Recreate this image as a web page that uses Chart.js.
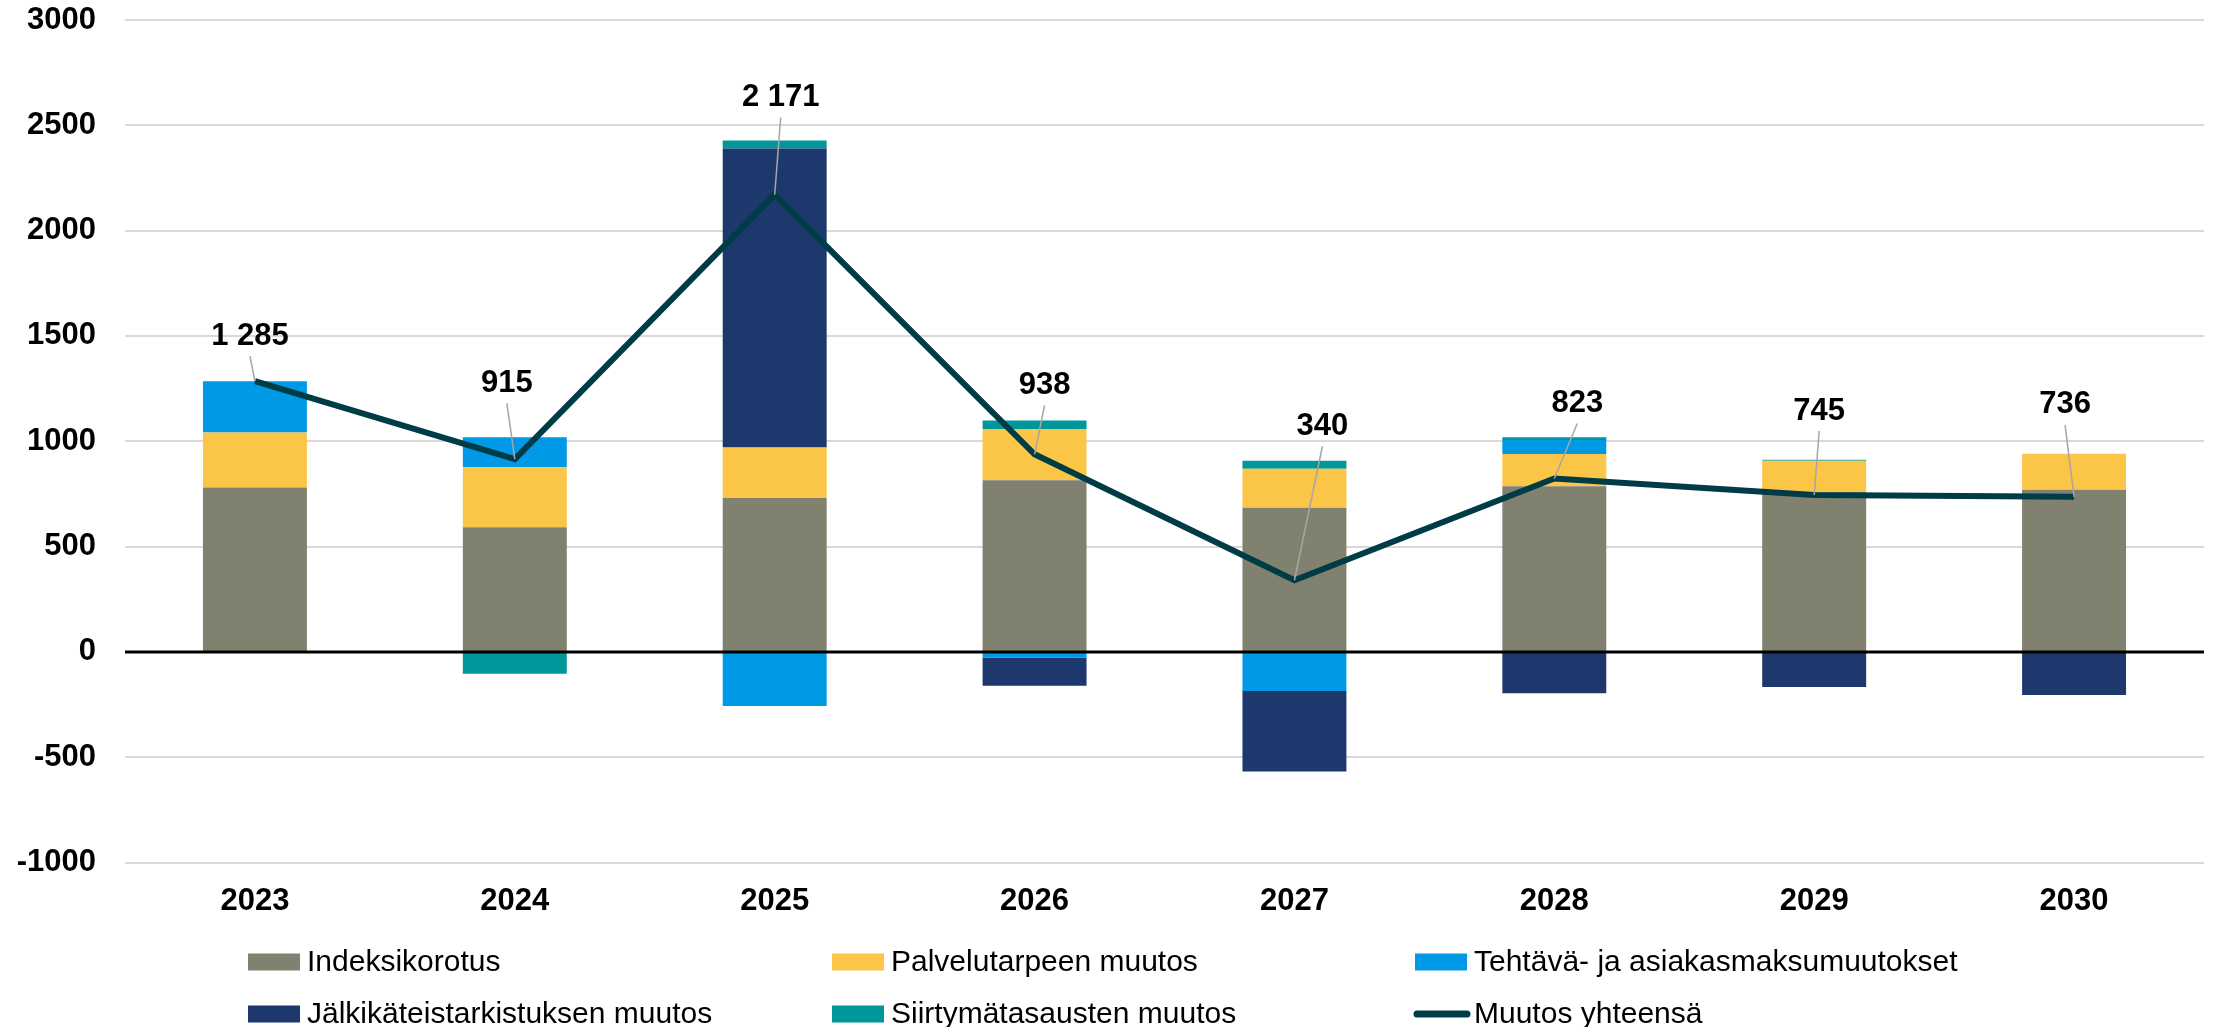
<!DOCTYPE html>
<html>
<head>
<meta charset="utf-8">
<script src="https://cdn.jsdelivr.net/npm/chart.js@4/dist/chart.umd.min.js"></script>
<style>
  html, body { margin: 0; padding: 0; background: #fff; }
  #wrap { width: 2223px; height: 1027px; position: relative; }
</style>
</head>
<body>
<div id="wrap"><canvas id="chart"></canvas></div>
<script>
// Chart data
const categories = ["2023", "2024", "2025", "2026", "2027", "2028", "2029", "2030"];
const indeksikorotus = [780, 592, 730, 815, 684, 786, 758, 770];
const palvelutarve = [262, 285, 240, 243, 186, 153, 149, 171];
const tehtavaMuutokset = [243, 142, -257, -27, -186, 67, 0, 0];
const jalkikateis = [0, 0, 1420, -134, -382, -196, -167, -205];
const siirtyma = [0, -104, 38, 41, 38, 13, 5, 0];
const muutosYhteensa = [1285, 915, 2171, 938, 340, 823, 745, 736];
const yTickValues = [-1000, -500, 0, 500, 1000, 1500, 2000, 2500, 3000];

// label placement relative to the line point (px)
const labelOffsets = [[-5, -46], [-8, -77], [6, -98], [10, -70], [28, -155], [23, -76], [5, -85], [-9, -93]];

const FONT = "'Liberation Sans', Arial, sans-serif";

const fmt = (v) => {
  const s = String(Math.abs(v));
  const out = s.length > 3 ? s.slice(0, s.length - 3) + " " + s.slice(-3) : s;
  return (v < 0 ? "-" : "") + out;
};

const bar = (label, data, color) => ({
  type: "bar",
  label,
  data,
  backgroundColor: color,
  borderWidth: 0,
  stack: "parts",
  order: 1,
  barPercentage: 0.4,
  categoryPercentage: 1,
});

const DATA = {
  labels: categories,
  datasets: [
    bar("Indeksikorotus", indeksikorotus, "#818170"),
    bar("Palvelutarpeen muutos", palvelutarve, "#fbc548"),
    bar("Tehtävä- ja asiakasmaksumuutokset", tehtavaMuutokset, "#0099e5"),
    bar("Jälkikäteistarkistuksen muutos", jalkikateis, "#1d386d"),
    bar("Siirtymätasausten muutos", siirtyma, "#00979a"),
    {
      type: "line",
      label: "Muutos yhteensä",
      data: muutosYhteensa,
      borderColor: "#003c46",
      backgroundColor: "#003c46",
      borderWidth: 6,
      pointRadius: 0,
      tension: 0,
      stack: "total",
      order: 0,
    },
  ],
};

// zero line goes on top of the bars, under the total line
const zeroLine = {
  id: "zeroLine",
  beforeDatasetDraw(chart, args) {
    if (args.meta.type !== "line") return;
    const { ctx, chartArea } = chart;
    const y = chart.scales.y.getPixelForValue(0);
    ctx.save();
    ctx.strokeStyle = "#000";
    ctx.lineWidth = 3;
    ctx.beginPath();
    ctx.moveTo(chartArea.left, y);
    ctx.lineTo(chartArea.right, y);
    ctx.stroke();
    ctx.restore();
  },
};

// total labels with leader lines
const totalLabels = {
  id: "totalLabels",
  afterDatasetsDraw(chart) {
    const { ctx } = chart;
    const meta = chart.getDatasetMeta(5);
    ctx.save();
    ctx.font = "bold 31px " + FONT;
    ctx.textAlign = "center";
    ctx.textBaseline = "middle";
    meta.data.forEach((pt, i) => {
      const [dx, dy] = labelOffsets[i];
      const lx = pt.x + dx;
      const ly = pt.y + dy;
      ctx.strokeStyle = "#a6a6a6";
      ctx.lineWidth = 1.5;
      ctx.beginPath();
      ctx.moveTo(lx, ly + 21);
      ctx.lineTo(pt.x, pt.y);
      ctx.stroke();
      ctx.fillStyle = "#000";
      ctx.fillText(fmt(muutosYhteensa[i]), lx, ly + 1);
    });
    ctx.restore();
  },
};

// 3-column legend under the axis
const gridLegend = {
  id: "gridLegend",
  afterDraw(chart) {
    const { ctx } = chart;
    const cols = [248, 832, 1415];
    const rows = [962, 1014];
    ctx.save();
    ctx.font = "30px " + FONT;
    ctx.textBaseline = "middle";
    ctx.textAlign = "left";
    chart.data.datasets.forEach((ds, i) => {
      const x = cols[i % 3];
      const y = rows[Math.floor(i / 3)];
      if (ds.type === "line") {
        ctx.strokeStyle = ds.borderColor;
        ctx.lineWidth = 7;
        ctx.lineCap = "round";
        ctx.beginPath();
        ctx.moveTo(x + 2, y);
        ctx.lineTo(x + 52, y);
        ctx.stroke();
      } else {
        ctx.fillStyle = ds.backgroundColor;
        ctx.fillRect(x, y - 8.5, 52, 17);
      }
      ctx.fillStyle = "#000";
      ctx.fillText(ds.label, x + 59, y + 1);
    });
    ctx.restore();
  },
};

const CONFIG = {
  data: DATA,
  options: {
    responsive: true,
    maintainAspectRatio: false,
    animation: false,
    layout: { padding: { top: 0, right: 19, left: 0, bottom: 0 } },
    plugins: {
      legend: { display: false },
      title: { display: false },
      tooltip: { enabled: false },
    },
    scales: {
      x: {
        stacked: true,
        border: { display: false },
        grid: { display: false, drawTicks: false },
        ticks: {
          color: "#000",
          padding: 20,
          font: { family: FONT, size: 31, weight: "bold" },
        },
        afterFit(scale) {
          scale.height = 164.5;
        },
      },
      y: {
        stacked: true,
        min: -1000,
        max: 3000,
        border: { display: false },
        grid: {
          color: (c) => (c.tick && c.tick.value === 0 ? "rgba(0,0,0,0)" : "#d9d9d9"),
          lineWidth: 2,
          drawTicks: false,
        },
        afterBuildTicks(scale) {
          scale.ticks = yTickValues.map((v) => ({ value: v }));
        },
        ticks: {
          color: "#000",
          padding: 29,
          font: { family: FONT, size: 31, weight: "bold" },
          callback: (v) => String(v),
        },
        afterFit(scale) {
          scale.width = 125;
          scale.paddingTop = 20;
          scale.paddingBottom = 0;
        },
      },
    },
  },
  plugins: [zeroLine, totalLabels, gridLegend],
};

new Chart(document.getElementById("chart"), CONFIG);
</script>
</body>
</html>
